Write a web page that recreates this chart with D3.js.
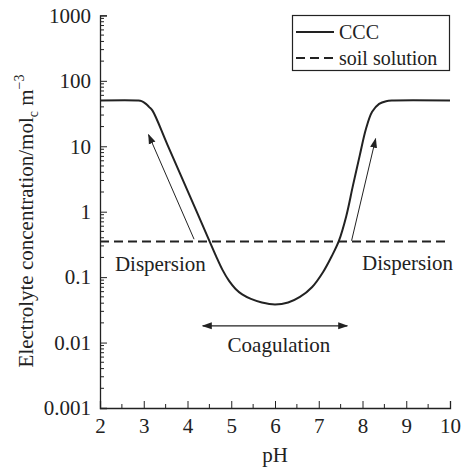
<!DOCTYPE html>
<html>
<head>
<meta charset="utf-8">
<script src="https://cdn.jsdelivr.net/npm/d3@7"></script>
<style>
  html, body { margin: 0; padding: 0; background: #fff; }
  svg text { font-family: "Liberation Serif", "DejaVu Serif", serif; fill: #222; }
</style>
</head>
<body>
<svg id="chart" width="462" height="471"></svg>
<script>
// ---- data ----
const pH = [2.0, 2.85, 2.95, 3.05, 3.12, 3.2, 3.54, 4.22, 4.5, 4.65, 4.8, 4.95, 5.1, 5.25, 5.45, 5.7, 6.0,
            6.3, 6.57, 6.85, 7.1, 7.3, 7.46, 7.63, 7.78, 7.94, 8.08, 8.22, 8.38, 8.54, 8.72, 10.0];
const ccc = [50, 50, 49, 44.5, 40, 35, 10.6, 0.97, 0.358, 0.211, 0.129, 0.0875, 0.066, 0.0544, 0.0465, 0.041, 0.0383,
             0.041, 0.0498, 0.0708, 0.12, 0.211, 0.358, 0.863, 2.48, 7.39, 18.5, 33.6, 44.5, 48.9, 50, 50];
const soilSolution = 0.35;
const soilRange = [2, 9.9];
const xTicks = [2, 3, 4, 5, 6, 7, 8, 9, 10];
const yTicks = [0.001, 0.01, 0.1, 1, 10, 100, 1000];
const yTickLabels = ["0.001", "0.01", "0.1", "1", "10", "100", "1000"];
const legendLabels = ["CCC", "soil solution"];
// annotation arrows (data coordinates: [pH, concentration])
const arrowLeft = [[4.15, 0.38], [3.11, 15]];
const arrowRight = [[7.75, 0.36], [8.3, 13]];
const coagArrow = [[4.35, 0.018], [7.65, 0.018]];
const annotations = [
  {text: "Dispersion", x: 3.38, y: 0.125, anchor: "middle"},
  {text: "Dispersion", x: 9.03, y: 0.13, anchor: "middle"},
  {text: "Coagulation", x: 6.09, y: 0.0072, anchor: "middle"}
];

// ---- scales ----
const svg = d3.select("#chart");
const x = d3.scaleLinear().domain([2, 10]).range([100, 450]);
const y = d3.scaleLog().domain([0.001, 1000]).range([408, 15.4]);
const ink = "#222";
const FONT = "'Liberation Serif', 'DejaVu Serif', serif";

const defs = svg.append("defs");
defs.append("marker").attr("id", "ah").attr("viewBox", "0 0 10 10")
  .attr("refX", 9).attr("refY", 5).attr("markerWidth", 10).attr("markerHeight", 10)
  .attr("markerUnits", "userSpaceOnUse").attr("orient", "auto-start-reverse")
  .append("path").attr("d", "M0,1.5 L10,5 L0,8.5 Z").attr("fill", ink);

// ---- axes ----
const xAxis = d3.axisBottom(x).tickValues(xTicks).tickSize(-7).tickPadding(10).tickFormat(d3.format("d"));
const gx = svg.append("g").attr("transform", `translate(0,${y(0.001)})`).call(xAxis);
gx.selectAll("text").attr("font-size", 21).attr("dy", "0.7em");
const xMinor = d3.range(2.5, 10, 1);
gx.selectAll(".minor").data(xMinor).enter().append("line")
  .attr("x1", d => x(d)).attr("x2", d => x(d)).attr("y1", 0).attr("y2", -4)
  .attr("stroke", ink);

const yAxis = d3.axisLeft(y).tickValues(yTicks).tickSize(-7).tickPadding(9)
  .tickFormat((d, i) => yTickLabels[i]);
const gy = svg.append("g").attr("transform", `translate(${x(2)},0)`).call(yAxis);
gy.selectAll("text").attr("font-size", 21);
const yMinor = [];
for (let e = -3; e < 3; e++) for (let m = 2; m <= 9; m++) yMinor.push(m * Math.pow(10, e));
gy.selectAll(".minor").data(yMinor).enter().append("line")
  .attr("x1", 0).attr("x2", 4).attr("y1", d => y(d)).attr("y2", d => y(d))
  .attr("stroke", ink);
[gx, gy].forEach(g => {
  g.attr("font-family", FONT);
  g.select(".domain").attr("stroke", ink).attr("stroke-width", 1.3);
  g.selectAll(".tick line").attr("stroke", ink);
  g.selectAll("text").attr("fill", ink).style("font-family", FONT);
});

// axis titles
svg.append("text").attr("x", 275).attr("y", 462).attr("text-anchor", "middle")
  .attr("font-size", 21).text("pH");
const yt = svg.append("text").attr("transform", "translate(33,221) rotate(-90)")
  .attr("text-anchor", "middle").attr("font-size", 21);
yt.append("tspan").text("Electrolyte concentration/mol");
yt.append("tspan").attr("font-size", 14).attr("dy", 5).text("c");
yt.append("tspan").attr("dy", -5).text(" m");
yt.append("tspan").attr("font-size", 14).attr("dy", -9).text("\u22123");

// ---- lines ----
const line = d3.line().x(d => x(d[0])).y(d => y(d[1])).curve(d3.curveCatmullRom.alpha(0.5));
svg.append("path").datum(pH.map((p, i) => [p, ccc[i]]))
  .attr("d", line).attr("fill", "none").attr("stroke", ink).attr("stroke-width", 2);
svg.append("line").attr("x1", x(soilRange[0])).attr("x2", x(soilRange[1]))
  .attr("y1", y(soilSolution)).attr("y2", y(soilSolution))
  .attr("stroke", ink).attr("stroke-width", 2).attr("stroke-dasharray", "9,5");

// ---- annotations ----
[arrowLeft, arrowRight].forEach(a => {
  svg.append("line").attr("x1", x(a[0][0])).attr("y1", y(a[0][1]))
    .attr("x2", x(a[1][0])).attr("y2", y(a[1][1]))
    .attr("stroke", ink).attr("stroke-width", 1).attr("marker-end", "url(#ah)");
});
svg.append("line").attr("x1", x(coagArrow[0][0])).attr("y1", y(coagArrow[0][1]))
  .attr("x2", x(coagArrow[1][0])).attr("y2", y(coagArrow[1][1]))
  .attr("stroke", ink).attr("stroke-width", 1.3)
  .attr("marker-start", "url(#ah)").attr("marker-end", "url(#ah)");
svg.selectAll(".ann").data(annotations).enter().append("text")
  .attr("x", d => x(d.x)).attr("y", d => y(d.y)).attr("text-anchor", d => d.anchor)
  .attr("font-size", 21).text(d => d.text);

// ---- legend ----
const lg = svg.append("g");
lg.append("rect").attr("x", 292.5).attr("y", 15.5).attr("width", 157).attr("height", 55)
  .attr("fill", "#fff").attr("stroke", ink).attr("stroke-width", 1.2);
const legendDash = [null, "9,5"];
legendLabels.forEach((lab, i) => {
  const yy = 32 + i * 26;
  lg.append("line").attr("x1", 296).attr("x2", 334).attr("y1", yy).attr("y2", yy)
    .attr("stroke", ink).attr("stroke-width", 2).attr("stroke-dasharray", legendDash[i]);
  lg.append("text").attr("x", 339).attr("y", yy + 7).attr("font-size", 20).text(lab);
});
</script>
</body>
</html>
